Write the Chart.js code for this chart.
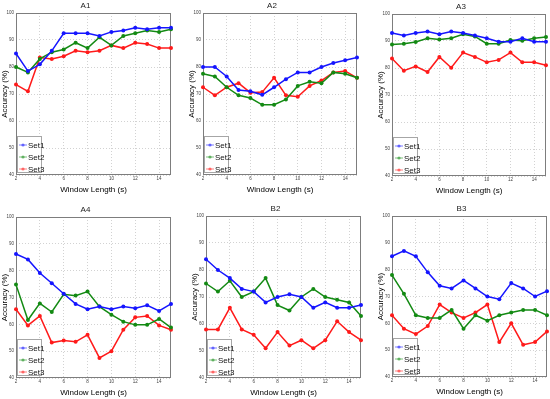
<!DOCTYPE html>
<html>
<head>
<meta charset="utf-8">
<script src="https://cdn.jsdelivr.net/npm/chart.js@4.4.1/dist/chart.umd.min.js"></script>
<style>
  html, body { margin: 0; padding: 0; background: #fff; overflow: hidden; }
  #wrap { position: relative; width: 550px; height: 399px; }
  #wrap canvas { position: absolute; }
</style>
</head>
<body>
<div id="wrap"></div>
<script>
// x values (window length in seconds) and axis ticks
const windowLengths = [2, 3, 4, 5, 6, 7, 8, 9, 10, 11, 12, 13, 14, 15];
const xTicks = [2, 4, 6, 8, 10, 12, 14];
const yTicks = [40, 50, 60, 70, 80, 90, 100];
const seriesNames = ["Set1", "Set2", "Set3"];
const seriesColors = ["#1515ff", "#138a13", "#ff1a1a"];

// accuracy (%)
const a1Set1 = [85, 78.5, 81, 86, 92.5, 92.5, 92.5, 91.5, 93, 93.5, 94.5, 94, 94.5, 94.5];
const a1Set2 = [80, 78, 83, 85.5, 86.5, 89, 87, 91, 88, 91.5, 92.5, 93.5, 93, 94];
const a1Set3 = [73.5, 71, 83.5, 83, 84, 86, 85.5, 86, 88, 87, 89, 88.5, 87, 87];

const a2Set1 = [80, 80, 76.5, 71.5, 71, 69.7, 72.5, 75.5, 78, 78, 80, 81.5, 82.5, 83.5];
const a2Set2 = [77.5, 76.5, 72.5, 69.5, 68.5, 66, 66, 68, 73, 74.5, 74, 78, 77.5, 76];
const a2Set3 = [72.5, 69.5, 72.5, 74, 70.5, 70.7, 76, 69.5, 69, 73, 75, 78, 78.5, 76];

const a3Set1 = [93, 92, 93, 93.5, 92.5, 93.5, 93, 92, 91, 89.7, 89.7, 91, 89.7, 89.7];
const a3Set2 = [88.7, 89, 89.6, 91, 90.6, 91, 92.5, 91.7, 89, 89, 90.4, 90.1, 91, 91.5];
const a3Set3 = [83.5, 79, 80.6, 78.5, 84.1, 80.1, 85.7, 84.1, 82.1, 83, 85.7, 82.1, 82.1, 81];

const a4Set1 = [86.2, 84.2, 79.1, 75.3, 71.4, 67.6, 65.6, 66.6, 65.6, 66.6, 66, 67.1, 65, 67.6];
const a4Set2 = [74.8, 61.6, 67.8, 64.6, 71.2, 70.7, 72.2, 66.6, 63.6, 61, 59.8, 59.8, 62, 58.8];
const a4Set3 = [65.6, 59.6, 63.1, 53.2, 54, 53.5, 56.1, 47.5, 50, 58, 62.6, 63.1, 59.6, 58];

const b2Set1 = [84, 80, 77, 73, 72, 68, 70, 71, 70, 66, 68, 66, 66, 67];
const b2Set2 = [75, 72, 76, 70, 72, 77, 67, 65, 70, 73, 70, 69, 68, 63];
const b2Set3 = [58, 58, 66, 58, 56, 51, 57, 52, 54, 51, 54, 61, 57, 54];

const b3Set1 = [85, 87, 85, 79, 74, 73, 76, 73, 70, 69, 75, 73, 70, 72];
const b3Set2 = [78, 71, 63, 62, 62, 65, 58, 63, 61, 63, 64, 65, 65, 63];
const b3Set3 = [63, 58, 56, 59, 67, 64, 62, 64, 67, 53, 60, 52, 53, 57];

const panelTitles = ["A1", "A2", "A3", "A4", "B2", "B3"];
const panelSeries = [
  [a1Set1, a1Set2, a1Set3],
  [a2Set1, a2Set2, a2Set3],
  [a3Set1, a3Set2, a3Set3],
  [a4Set1, a4Set2, a4Set3],
  [b2Set1, b2Set2, b2Set3],
  [b3Set1, b3Set2, b3Set3],
];

// plot area of each panel on the page: left, top, right, bottom
const plotBoxes = [
  [16, 13, 171, 175],
  [203, 13, 357, 175],
  [392, 14, 546, 176],
  [16, 217, 171, 378],
  [206, 216, 361, 378],
  [392, 216, 547, 377],
];

const narrow = "'Liberation Sans Narrow', 'Liberation Sans', Arial, sans-serif";
const Y_AXIS_W = 16;
const X_AXIS_H = 22;
const TITLE_H = 13;
const RIGHT_PAD = 4;

// box around the axes + legend inside the lower left corner
const framePlugin = {
  id: "frame",
  beforeDatasetsDraw(chart) {
    const { ctx, chartArea: a } = chart;
    ctx.save();
    ctx.strokeStyle = "#7d7d7d";
    ctx.lineWidth = 1;
    ctx.strokeRect(a.left + 0.5, a.top + 0.5, a.right - a.left - 1, a.bottom - a.top - 1);
    ctx.restore();
  },
  afterDatasetsDraw(chart) {
    const { ctx, chartArea: a } = chart;
    const x = a.left + 1;
    const y = a.bottom - 39;
    const w = 25;
    const h = 37;
    ctx.save();
    ctx.fillStyle = "#fff";
    ctx.fillRect(x, y, w, h);
    ctx.strokeStyle = "#a6a6a6";
    ctx.lineWidth = 1;
    ctx.strokeRect(x + 0.5, y + 0.5, w - 1, h - 1);
    chart.data.datasets.forEach((ds, i) => {
      const ly = y + 9 + i * 12;
      ctx.globalAlpha = 0.55;
      ctx.strokeStyle = ds.borderColor;
      ctx.lineWidth = 1;
      ctx.beginPath();
      ctx.moveTo(x + 2, ly);
      ctx.lineTo(x + 10, ly);
      ctx.stroke();
      ctx.fillStyle = ds.borderColor;
      ctx.beginPath();
      ctx.arc(x + 6, ly, 1.6, 0, Math.PI * 2);
      ctx.fill();
      ctx.globalAlpha = 1;
      ctx.fillStyle = "#111";
      ctx.font = "8px " + narrow;
      ctx.textBaseline = "middle";
      ctx.fillText(ds.label, x + 11, ly + 0.5);
    });
    ctx.restore();
  },
};

const wrap = document.getElementById("wrap");

panelTitles.forEach((title, p) => {
  const [L, T, R, B] = plotBoxes[p];
  const canvas = document.createElement("canvas");
  canvas.width = R - L + Y_AXIS_W + RIGHT_PAD;
  canvas.height = B - T + TITLE_H + X_AXIS_H;
  canvas.style.left = L - Y_AXIS_W + "px";
  canvas.style.top = T - TITLE_H + "px";
  wrap.appendChild(canvas);

  new Chart(canvas.getContext("2d"), {
    type: "line",
    data: {
      labels: windowLengths,
      datasets: panelSeries[p].map((values, i) => ({
        label: seriesNames[i],
        data: values,
        borderColor: seriesColors[i],
        backgroundColor: seriesColors[i],
        borderWidth: 1.5,
        pointRadius: 2,
        pointBorderWidth: 0,
        tension: 0,
        fill: false,
        clip: 4,
      })),
    },
    options: {
      responsive: false,
      animation: false,
      devicePixelRatio: 1,
      layout: { padding: { left: 0, right: RIGHT_PAD, top: 0, bottom: 0 } },
      plugins: {
        legend: { display: false },
        tooltip: { enabled: false },
        title: {
          display: true,
          text: title,
          color: "#222",
          font: { family: narrow, size: 8, weight: "normal" },
          padding: { top: 1, bottom: 2.4 },
        },
      },
      scales: {
        x: {
          type: "linear",
          min: 2,
          max: 15,
          afterBuildTicks: (s) => {
            s.ticks = xTicks.map((v) => ({ value: v }));
          },
          afterFit: (s) => {
            s.height = X_AXIS_H;
          },
          grid: { color: "#d2d2d2", drawTicks: false },
          border: { display: false, dash: [1, 2] },
          ticks: {
            font: { family: narrow, size: 4.5 },
            color: "#444",
            padding: 1,
            maxRotation: 0,
            autoSkip: false,
          },
          title: {
            display: true,
            text: "Window Length (s)",
            color: "#000",
            font: { family: narrow, size: 8 },
            padding: { top: 0, bottom: 2 },
          },
        },
        y: {
          min: 40,
          max: 100,
          afterBuildTicks: (s) => {
            s.ticks = yTicks.map((v) => ({ value: v }));
          },
          afterFit: (s) => {
            s.width = Y_AXIS_W;
          },
          grid: { color: "#d2d2d2", drawTicks: false },
          border: { display: false, dash: [1, 2] },
          ticks: {
            font: { family: narrow, size: 4.5 },
            color: "#444",
            padding: 2,
          },
          title: {
            display: true,
            text: "Accuracy (%)",
            color: "#000",
            font: { family: narrow, size: 8 },
            padding: { top: 0, bottom: 0 },
          },
        },
      },
    },
    plugins: [framePlugin],
  });
});
</script>
</body>
</html>
